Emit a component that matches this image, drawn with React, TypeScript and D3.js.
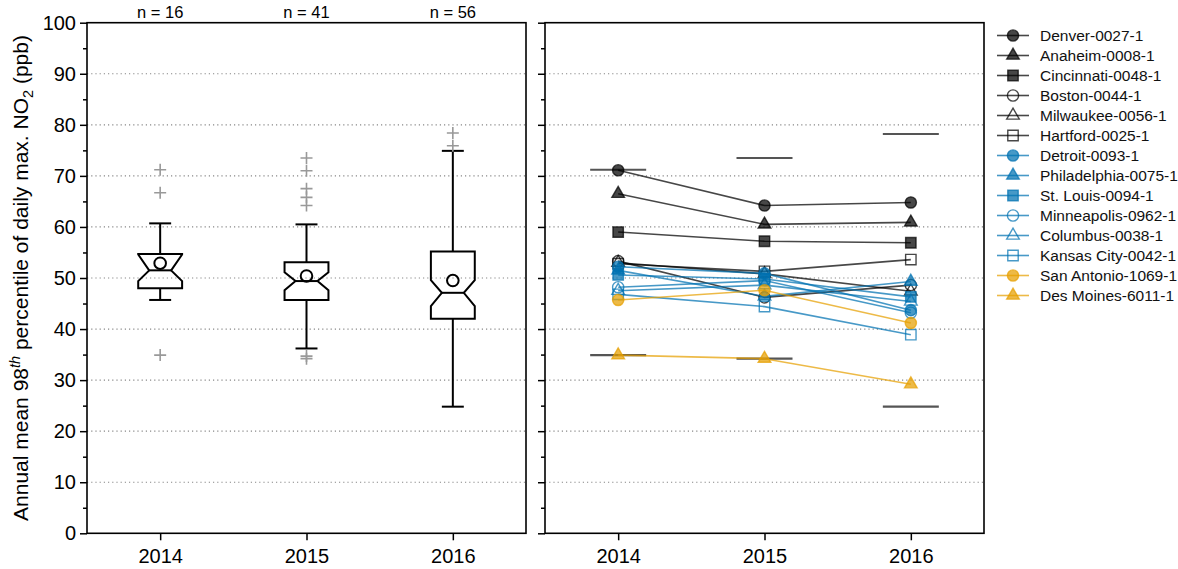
import React, { useEffect, useRef } from "react";
import * as d3 from "d3";

// box plot summary per year (ppb)
const years = ["2014", "2015", "2016"];
const counts = [16, 41, 56];
const whiskerLow = [45.7, 36.2, 24.8];
const boxQ1 = [48.0, 45.7, 42.0];
const boxMedian = [51.5, 49.4, 47.1];
const boxQ3 = [54.7, 53.1, 55.2];
const whiskerHigh = [60.7, 60.5, 74.9];
const notchLow = [49.4, 47.6, 44.5];
const notchHigh = [54.6, 51.1, 49.6];
const boxMean = [52.9, 50.4, 49.5];
const outliers = [
  [71.2, 66.7, 34.9],
  [73.5, 71.0, 67.5, 65.8, 64.2, 34.7, 34.2],
  [78.4, 75.9],
];
const yearMax = [71.2, 73.5, 78.2];
const yearMin = [34.9, 34.2, 24.8];

// individual sites
const siteNames = [
  "Denver-0027-1",
  "Anaheim-0008-1",
  "Cincinnati-0048-1",
  "Boston-0044-1",
  "Milwaukee-0056-1",
  "Hartford-0025-1",
  "Detroit-0093-1",
  "Philadelphia-0075-1",
  "St. Louis-0094-1",
  "Minneapolis-0962-1",
  "Columbus-0038-1",
  "Kansas City-0042-1",
  "San Antonio-1069-1",
  "Des Moines-6011-1",
];
const siteValues = [
  [71.1, 64.2, 64.8],
  [66.5, 60.5, 60.9],
  [59.0, 57.2, 56.9],
  [53.3, 46.2, 48.6],
  [53.0, 50.8, 47.4],
  [52.8, 51.3, 53.6],
  [52.2, 50.9, 43.7],
  [51.5, 46.4, 49.3],
  [50.6, 49.8, 46.3],
  [48.2, 49.5, 43.2],
  [47.5, 48.6, 45.4],
  [46.8, 44.4, 38.9],
  [45.7, 47.6, 41.2],
  [34.9, 34.2, 29.2],
];
const siteColors = [
  "#000", "#000", "#000", "#000", "#000", "#000",
  "#0072B2", "#0072B2", "#0072B2", "#0072B2", "#0072B2", "#0072B2",
  "#E69F00", "#E69F00",
];
const siteShapes = [
  "circle", "triangle", "square", "circle", "triangle", "square",
  "circle", "triangle", "square", "circle", "triangle", "square",
  "circle", "triangle",
];
const siteFilled = [
  true, true, true, false, false, false,
  true, true, true, false, false, false,
  true, true,
];

const FONT = "'Liberation Sans', Arial, sans-serif";

function markerPath(shape: string) {
  if (shape === "circle") {
    const p = d3.path();
    p.arc(0, 0, 5.6, 0, Math.PI * 2);
    return p.toString();
  }
  if (shape === "triangle") {
    const r = 7.3;
    return `M0,${-r}L${0.866 * r},${0.5 * r}L${-0.866 * r},${0.5 * r}Z`;
  }
  const h = 5.2;
  return `M${-h},${-h}H${h}V${h}H${-h}Z`;
}

export default function App() {
  const svgRef = useRef<SVGSVGElement>(null);

  useEffect(() => {
    if (!svgRef.current) return;
    const svg = d3.select(svgRef.current);
    svg.selectAll("*").remove();

    const top = 22.7;
    const bottom = 533.3;
    const y = d3.scaleLinear().domain([0, 100]).range([bottom, top]);
    const panels = [
      { left: 87, right: 526 },
      { left: 545, right: 984 },
    ];

    const xs = panels.map((p) =>
      d3.scalePoint<string>().domain(years).range([p.left, p.right]).padding(0.5)
    );

    panels.forEach((p, pi) => {
      const g = svg.append("g");
      // grid
      g.selectAll("line.grid")
        .data(d3.range(10, 100, 10))
        .enter()
        .append("line")
        .attr("x1", p.left)
        .attr("x2", p.right)
        .attr("y1", (d) => y(d))
        .attr("y2", (d) => y(d))
        .attr("stroke", "#888")
        .attr("stroke-width", 1.2)
        .attr("stroke-dasharray", "1.2,3");

      // y axis major + minor
      const major = g
        .append("g")
        .attr("transform", `translate(${p.left},0)`)
        .call(
          d3
            .axisLeft(y)
            .tickValues(d3.range(0, 101, 10))
            .tickSize(7)
            .tickPadding(4)
            .tickFormat(pi === 0 ? (d) => String(d) : () => "")
        );
      major.select(".domain").remove();
      major.selectAll("line").attr("stroke-width", 1.5);
      major.selectAll("text").style("font-family", FONT).style("font-size", "20px").attr("fill", "#000");

      const minor = g
        .append("g")
        .attr("transform", `translate(${p.left},0)`)
        .call(d3.axisLeft(y).tickValues(d3.range(5, 100, 10)).tickSize(4).tickFormat(() => ""));
      minor.select(".domain").remove();
      minor.selectAll("line").attr("stroke-width", 1.5);

      // x axis
      const xa = g
        .append("g")
        .attr("transform", `translate(0,${bottom})`)
        .call(d3.axisBottom(xs[pi]).tickSize(7).tickPadding(4));
      xa.select(".domain").remove();
      xa.selectAll("line").attr("stroke-width", 1.5);
      xa.selectAll("text")
        .style("font-family", FONT)
        .style("font-size", "20px")
        .attr("fill", "#000")
        .attr("dy", "0.95em");

      // frame
      g.append("rect")
        .attr("x", p.left)
        .attr("y", top)
        .attr("width", p.right - p.left)
        .attr("height", bottom - top)
        .attr("fill", "none")
        .attr("stroke", "#000")
        .attr("stroke-width", 1.6);
    });

    // ---------- left panel: notched box plots ----------
    const xL = xs[0];
    const step = xL.step();
    const hw = step * 0.15;
    const iw = hw / 2;
    const boxes = svg.append("g");

    years.forEach((yr, i) => {
      const cx = xL(yr) as number;
      const L = cx - hw;
      const R = cx + hw;
      const pathD =
        `M${L},${y(boxQ1[i])}H${R}V${y(notchLow[i])}L${cx + iw},${y(boxMedian[i])}` +
        `L${R},${y(notchHigh[i])}V${y(boxQ3[i])}H${L}V${y(notchHigh[i])}` +
        `L${cx - iw},${y(boxMedian[i])}L${L},${y(notchLow[i])}Z`;

      // whiskers
      [
        [boxQ3[i], whiskerHigh[i]],
        [boxQ1[i], whiskerLow[i]],
      ].forEach(([a, b]) => {
        boxes.append("line")
          .attr("x1", cx).attr("x2", cx)
          .attr("y1", y(a)).attr("y2", y(b))
          .attr("stroke", "#000").attr("stroke-width", 2);
        boxes.append("line")
          .attr("x1", cx - iw).attr("x2", cx + iw)
          .attr("y1", y(b)).attr("y2", y(b))
          .attr("stroke", "#000").attr("stroke-width", 2);
      });

      boxes.append("path")
        .attr("d", pathD)
        .attr("fill", "none")
        .attr("stroke", "#000")
        .attr("stroke-width", 2)
        .attr("stroke-linejoin", "miter");

      boxes.append("line")
        .attr("x1", cx - iw).attr("x2", cx + iw)
        .attr("y1", y(boxMedian[i])).attr("y2", y(boxMedian[i]))
        .attr("stroke", "#000").attr("stroke-width", 2);

      boxes.append("circle")
        .attr("cx", cx).attr("cy", y(boxMean[i])).attr("r", 5.8)
        .attr("fill", "none").attr("stroke", "#000").attr("stroke-width", 2);

      outliers[i].forEach((v) => {
        boxes.append("path")
          .attr("d", `M${cx - 6},${y(v)}H${cx + 6}M${cx},${y(v) - 6}V${y(v) + 6}`)
          .attr("stroke", "#999")
          .attr("stroke-width", 1.6);
      });

      svg.append("text")
        .attr("x", cx)
        .attr("y", 18)
        .attr("text-anchor", "middle")
        .style("font-family", FONT)
        .style("font-size", "16.5px")
        .text(`n = ${counts[i]}`);
    });

    // ---------- right panel: site trajectories ----------
    const xR = xs[1];
    const right = svg.append("g");
    years.forEach((yr, i) => {
      const cx = xR(yr) as number;
      [yearMax[i], yearMin[i]].forEach((v) => {
        right.append("line")
          .attr("x1", cx - 28).attr("x2", cx + 28)
          .attr("y1", y(v)).attr("y2", y(v))
          .attr("stroke", "#555").attr("stroke-width", 2.2);
      });
    });

    const line = d3
      .line<number>()
      .x((_, i) => xR(years[i]) as number)
      .y((d) => y(d));

    siteValues.forEach((vals, s) => {
      const sg = right.append("g");
      sg.append("path")
        .attr("d", line(vals))
        .attr("fill", "none")
        .attr("stroke", siteColors[s])
        .attr("stroke-opacity", 0.72)
        .attr("stroke-width", 1.6);
      vals.forEach((v, i) => {
        sg.append("path")
          .attr("transform", `translate(${xR(years[i])},${y(v)})`)
          .attr("d", markerPath(siteShapes[s]))
          .attr("fill", siteFilled[s] ? siteColors[s] : "none")
          .attr("fill-opacity", 0.72)
          .attr("stroke", siteColors[s])
          .attr("stroke-opacity", 0.72)
          .attr("stroke-width", 1.4);
      });
    });

    // ---------- legend ----------
    const lg = svg.append("g");
    siteNames.forEach((name, s) => {
      const ly = 35.5 + s * 20;
      lg.append("line")
        .attr("x1", 997).attr("x2", 1029)
        .attr("y1", ly).attr("y2", ly)
        .attr("stroke", siteColors[s])
        .attr("stroke-opacity", 0.72)
        .attr("stroke-width", 1.6);
      lg.append("path")
        .attr("transform", `translate(1013,${ly})`)
        .attr("d", markerPath(siteShapes[s]))
        .attr("fill", siteFilled[s] ? siteColors[s] : "none")
        .attr("fill-opacity", 0.72)
        .attr("stroke", siteColors[s])
        .attr("stroke-opacity", 0.72)
        .attr("stroke-width", 1.4);
      lg.append("text")
        .attr("x", 1040)
        .attr("y", ly)
        .attr("dy", "0.36em")
        .style("font-family", FONT)
        .style("font-size", "15.5px")
        .attr("fill", "#111")
        .text(name);
    });

    // ---------- y label ----------
    const yl = svg
      .append("text")
      .attr("transform", `translate(28,${(top + bottom) / 2}) rotate(-90)`)
      .attr("text-anchor", "middle")
      .style("font-family", FONT)
      .style("font-size", "21px");
    yl.append("tspan").text("Annual mean 98");
    yl.append("tspan")
      .attr("dy", -8)
      .style("font-size", "14.5px")
      .style("font-style", "italic")
      .text("th");
    yl.append("tspan").attr("dy", 8).text(" percentile of daily max. NO");
    yl.append("tspan").attr("dy", 5).style("font-size", "14.5px").text("2");
    yl.append("tspan").attr("dy", -5).text(" (ppb)");
  }, []);

  return (
    <svg
      ref={svgRef}
      width={1178}
      height={569}
      style={{ position: "absolute", left: 0, top: 0, background: "#fff" }}
    />
  );
}
